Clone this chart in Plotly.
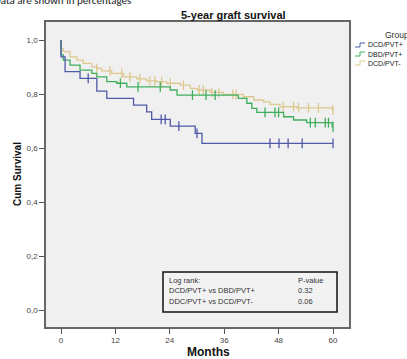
import plotly.graph_objects as go

# Kaplan-Meier steps (months, cumulative survival)
blue_t = [0, 0, 0.9, 4.2, 7.9, 10.1, 16.0, 18.9, 20.0, 24.1, 29.6, 31.1, 60]
blue_s = [1.0, 0.938, 0.883, 0.858, 0.811, 0.784, 0.759, 0.734, 0.706, 0.681,
          0.654, 0.617, 0.617]
blue_c = [6.0, 22.1, 23.0, 26.0, 30.0, 46.1, 48.1, 50.1, 53.2, 60]

green_t = [0, 0, 0.5, 2.0, 4.2, 6.8, 7.9, 10.1, 12.3, 14.5, 24.1, 25.6, 39.1,
           41.0, 42.1, 43.2, 49.1, 51.3, 54.2, 59.8, 60]
green_s = [1.0, 0.945, 0.926, 0.907, 0.889, 0.877, 0.864, 0.846, 0.840, 0.827,
           0.815, 0.796, 0.784, 0.766, 0.747, 0.732, 0.716, 0.704, 0.694, 0.679,
           0.679]
green_c = [13.1, 17.0, 21.9, 29.0, 32.0, 34.0, 45.0, 47.2, 48.0, 55.0, 56.1,
           58.3, 59.0, 60]

tan_t = [0, 0, 0.5, 2.0, 3.5, 4.9, 6.8, 7.9, 9.0, 11.2, 13.8, 16.7, 18.9, 21.1,
         23.3, 26.3, 28.5, 30.0, 32.9, 35.8, 40.2, 42.5, 44.7, 46.1, 48.3, 52.0,
         59.8, 60]
tan_s = [1.0, 0.969, 0.957, 0.938, 0.926, 0.914, 0.901, 0.895, 0.886, 0.877,
         0.864, 0.856, 0.849, 0.846, 0.840, 0.833, 0.821, 0.815, 0.806, 0.799,
         0.790, 0.778, 0.771, 0.762, 0.753, 0.749, 0.741, 0.741]
tan_c = [7.9, 10.8, 13.4, 15.2, 17.4, 19.6, 20.7, 22.2, 24.1, 27.0, 30.5, 31.4,
         33.3, 34.8, 37.9, 38.6, 49.0, 51.3, 52.4, 54.6, 56.8, 60]

groups = ["DCD/PVT+", "DBD/PVT+", "DCD/PVT-"]
colors = ["#4f5aa8", "#3fae5c", "#dcc890"]

x_ticks = [0, 12, 24, 36, 48, 60]
y_ticks = [0, 0.2, 0.4, 0.6, 0.8, 1.0]
y_text = ["0,0", "0,2", "0,4", "0,6", "0,8", "1,0"]

logrank_rows = ["Log rank:", "DCD/PVT+ vs DBD/PVT+", "DDC/PVT+ vs DCD/PVT-"]
logrank_p = ["P-value", "0.32", "0.06"]

FONT = "Arial, Liberation Sans, sans-serif"
W, H = 407, 359
L, R, T, B = 46, 58, 22, 32
PW, PH = W - L - R, H - T - B


def px(x):
    return (x - L) / PW


def py(y):
    return (H - B - y) / PH


def at(ts, ss, c):
    # survival value at time c (step function)
    v = ss[0]
    for t, s in zip(ts, ss):
        if t <= c:
            v = s
    return v


fig = go.Figure()
series = [(tan_t, tan_s, tan_c, 2), (green_t, green_s, green_c, 1),
          (blue_t, blue_s, blue_c, 0)]
for ts, ss, cs, i in series:
    fig.add_trace(go.Scatter(x=ts, y=ss, mode="lines", line_shape="hv",
                             line=dict(color=colors[i], width=1.3),
                             name=groups[i], showlegend=False))
    fig.add_trace(go.Scatter(x=cs, y=[at(ts, ss, c) for c in cs],
                             mode="markers",
                             marker=dict(symbol="line-ns-open", size=7,
                                         color=colors[i],
                                         line=dict(color=colors[i], width=1.3)),
                             showlegend=False, hoverinfo="skip"))

fig.update_xaxes(range=[-3.31, 63.53], tickvals=x_ticks, ticks="outside",
                 ticklen=5, tickcolor="#555", showgrid=False, zeroline=False,
                 showline=True, linecolor="#666", linewidth=1.5, mirror=True,
                 tickfont=dict(size=8, color="#444", family=FONT))
fig.update_yaxes(range=[-0.063, 1.067], tickvals=y_ticks, ticktext=y_text,
                 ticks="outside", ticklen=5, tickcolor="#555", showgrid=False,
                 zeroline=False, showline=True, linecolor="#666", linewidth=1.5,
                 mirror=True, tickfont=dict(size=8, color="#444", family=FONT))

ann = [
    dict(text="Data are shown in percentages", x=px(-8), y=py(0),
         xanchor="left", yanchor="middle",
         font=dict(size=11, color="#222", family="Carlito, Lato, sans-serif")),
    dict(text="<b>5-year graft survival</b>", x=px(233), y=py(15),
         xanchor="center", yanchor="middle",
         font=dict(size=11, color="#111", family=FONT)),
    dict(text="<b>Months</b>", x=px(208), y=py(352), xanchor="center",
         yanchor="middle", font=dict(size=12, color="#111", family=FONT)),
    dict(text="<b>Cum Survival</b>", x=px(17), y=py(174), textangle=-90,
         xanchor="center", yanchor="middle",
         font=dict(size=10, color="#111", family=FONT)),
    dict(text="Group", x=px(383), y=py(35), xanchor="left", yanchor="middle",
         font=dict(size=8.5, color="#333", family=FONT)),
]
shapes = []
for k, g in enumerate(groups):
    yy = 45 + 9 * k
    ann.append(dict(text=g, x=px(366), y=py(yy), xanchor="left",
                    yanchor="middle",
                    font=dict(size=7, color="#222", family=FONT)))
    path = (f"M {px(355)},{py(yy + 2)} L {px(360)},{py(yy + 2)} "
            f"L {px(360)},{py(yy - 2)} L {px(365)},{py(yy - 2)}")
    shapes.append(dict(type="path", path=path, xref="paper", yref="paper",
                       line=dict(color=colors[k], width=1)))

# log rank box
shapes.append(dict(type="rect", xref="paper", yref="paper", x0=px(163),
                   x1=px(337), y0=py(312), y1=py(272),
                   line=dict(color="#111", width=1.5), fillcolor="#f2f2f2"))
for k, (row, p) in enumerate(zip(logrank_rows, logrank_p)):
    yy = 280 + 10.5 * k
    ann.append(dict(text=row, x=px(167), y=py(yy), xanchor="left",
                    yanchor="middle",
                    font=dict(size=7.5, color="#333", family=FONT)))
    ann.append(dict(text=p, x=px(296), y=py(yy), xanchor="left",
                    yanchor="middle",
                    font=dict(size=7.5, color="#333", family=FONT)))

for a in ann:
    a.update(xref="paper", yref="paper", showarrow=False)

fig.update_layout(width=W, height=H, margin=dict(l=L, r=R, t=T, b=B),
                  plot_bgcolor="#f0f0f0", paper_bgcolor="white",
                  annotations=ann, shapes=shapes, showlegend=False)
# drop the browser's default body margin so the figure fills the window
fig.write_html("out.html", config={"displayModeBar": False},
               post_script="document.body.style.margin = '0';")
